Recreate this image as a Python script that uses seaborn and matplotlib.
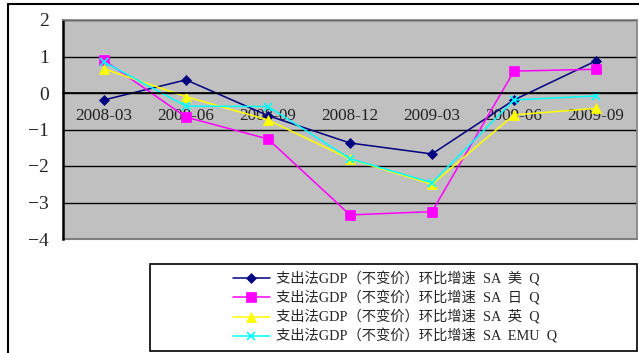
import numpy as np
import pandas as pd
import matplotlib.pyplot as plt
import seaborn as sns
from matplotlib.patches import Rectangle
from matplotlib.lines import Line2D

# ==========================================================
# DATA
# ==========================================================

quarters = ["2008-03", "2008-06", "2008-09", "2008-12", "2009-03", "2009-06", "2009-09"]

us = [-0.19, 0.36, -0.62, -1.37, -1.67, -0.19, 0.88]
jp = [0.90, -0.66, -1.26, -3.34, -3.25, 0.60, 0.65]
uk = [0.66, -0.10, -0.74, -1.81, -2.50, -0.60, -0.42]
emu = [0.85, -0.36, -0.37, -1.80, -2.46, -0.19, -0.08]

labels = [
    "支出法GDP（不变价）环比增速  SA  美  Q",
    "支出法GDP（不变价）环比增速  SA  日  Q",
    "支出法GDP（不变价）环比增速  SA  英  Q",
    "支出法GDP（不变价）环比增速  SA  EMU  Q",
]

yticks = [-4, -3, -2, -1, 0, 1, 2]

# ==========================================================
# STYLE
# ==========================================================

colors = ["#000080", "#FF00FF", "#FFFF00", "#00FFFF"]
markers = ["D", "s", "^", "x"]
msizes = [5.5, 7.5, 7.5, 6]

sns.set_style("white")
plt.rcParams["font.family"] = ["Liberation Serif", "Noto Sans CJK SC", "DejaVu Sans"]

fig = plt.figure(figsize=(6.39, 3.53), dpi=100)
ax = fig.add_axes([63 / 639, 1 - 239 / 353, 574 / 639, 219 / 353])
ax.set_facecolor("#C0C0C0")

x = np.arange(len(quarters))
for vals, lab, c, m, ms in zip([us, jp, uk, emu], labels, colors, markers, msizes):
    df = pd.DataFrame({"x": x, "y": vals})
    sns.lineplot(
        data=df, x="x", y="y", ax=ax, color=c, marker=m, markersize=ms,
        markeredgecolor=c, markeredgewidth=1.2 if m == "x" else 0.5,
        linewidth=1.1, label=lab, sort=False, legend=False,
    )

# ==========================================================
# AXES
# ==========================================================

ax.set_xlim(-0.5, len(quarters) - 0.5)
ax.set_ylim(-4, 2)
ax.set_yticks(yticks)
ax.set_xticks(x)
ax.set_xticklabels(quarters)
ax.set_xticks(np.arange(len(quarters) + 1) - 0.5, minor=True)
ax.tick_params(axis="x", which="major", length=0, pad=11,
               labelsize=12.3, labelcolor="#222222")
ax.tick_params(axis="x", which="minor", length=4, width=1.2, direction="in", color="black")
ax.tick_params(axis="y", length=4, width=1.2, direction="out", labelsize=14, pad=6)
ax.set_xlabel("")
ax.set_ylabel("")

ax.yaxis.grid(True, color="black", linewidth=1)
ax.set_axisbelow(True)

ax.spines["bottom"].set_position(("data", 0))
ax.spines["bottom"].set_color("black")
ax.spines["bottom"].set_linewidth(1.2)
ax.spines["left"].set_color("black")
ax.spines["left"].set_linewidth(1.8)
for s in ["top", "right"]:
    ax.spines[s].set_color("#808080")
    ax.spines[s].set_linewidth(1.2)
ax.axhline(-4, color="#808080", linewidth=1.5, clip_on=False, zorder=0.6)

# ==========================================================
# LEGEND + FRAMES
# ==========================================================

handles = [
    Line2D([], [], color=c, marker=m, markersize=ms * 0.9, markeredgecolor=c,
           markeredgewidth=1.2 if m == "x" else 0.5, linewidth=1.1)
    for c, m, ms in zip(colors, markers, msizes)
]
fig.legend(
    handles, labels, loc="center", bbox_to_anchor=(0.618, 0.129),
    frameon=False, fontsize=10.3, handlelength=2.6, labelspacing=0.28,
    handletextpad=0.4, borderpad=0,
)

fig.patches.append(Rectangle((150 / 639, 2 / 353), 487 / 639, 87 / 353,
                             transform=fig.transFigure, fill=False,
                             edgecolor="black", linewidth=1.2))
fig.lines.append(Line2D([8 / 639, 8 / 639], [0, 1 - 4 / 353],
                        transform=fig.transFigure, color="black", linewidth=1.5))
fig.lines.append(Line2D([8 / 639, 1], [1 - 4 / 353, 1 - 4 / 353],
                        transform=fig.transFigure, color="black", linewidth=1.5))

plt.savefig("out.png", dpi=100)
